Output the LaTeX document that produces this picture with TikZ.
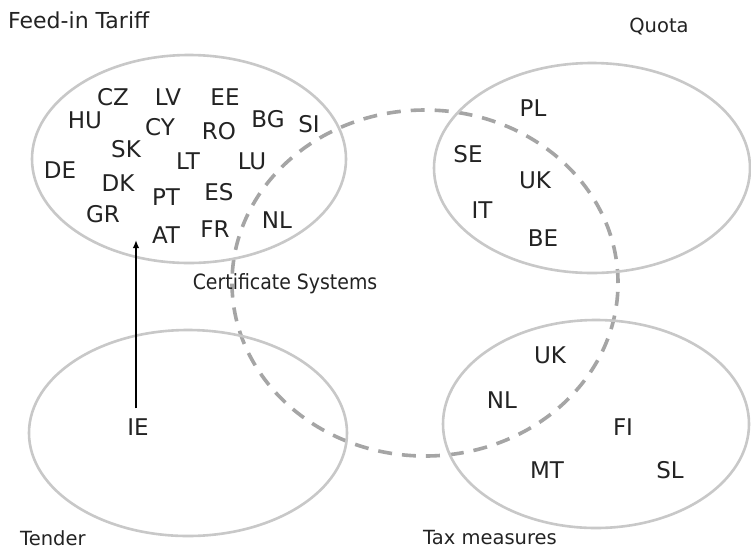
\documentclass[tikz,border=0pt]{standalone}
\usepackage{fontspec}
\setmainfont{DejaVu Sans}
\newfontfamily\narrowfont{DejaVu Sans Condensed}
\usetikzlibrary{shapes.geometric,arrows.meta}
\definecolor{ringgray}{RGB}{200,200,200}
\definecolor{dashgray}{RGB}{165,165,165}
\definecolor{inkgray}{RGB}{35,35,35}
\begin{document}
\begin{tikzpicture}[x=1pt,y=-1pt,
  policy/.style={ellipse,draw=ringgray,line width=2.6pt,inner sep=0pt,outer sep=0pt},
  country/.style={text=inkgray,font=\fontsize{23}{23}\selectfont,inner sep=0pt},
  caption/.style={text=inkgray,font=\fontsize{19.5}{20}\selectfont,inner sep=0pt},
  certring/.style={draw=dashgray,line width=3.6pt,dash pattern=on 14pt off 10pt}]
\useasboundingbox (0,0) rectangle (751,550);
\fill[white] (0,0) rectangle (751,550);

% certificate systems (dashed)
\node[ellipse,certring,minimum width=386pt,minimum height=346pt,inner sep=0pt] (cert) at (425,283) {};

% the four support schemes
\node[policy,minimum width=314pt,minimum height=208pt] (fit) at (189,159) {};
\node[policy,minimum width=316pt,minimum height=210pt] (quota) at (592,168) {};
\node[policy,minimum width=318pt,minimum height=206pt] (tender) at (188,433) {};
\node[policy,minimum width=306pt,minimum height=208pt] (tax) at (596,424) {};

% scheme captions
\node[caption,anchor=west,font=\fontsize{22}{22}\selectfont] (fitlab) at (8,20) {Feed-in Tariff};
\node[caption] (quotalab) at (659,27) {Quota};
\node[caption,font=\narrowfont\fontsize{21}{21}\selectfont] (certlab) at (285,284) {Certificate Systems};
\node[caption,anchor=west] (tenderlab) at (20,538) {Tender};
\node[caption] (taxlab) at (490,538) {Tax measures};

% feed-in tariff countries
\node[country] (cz) at (113,97) {CZ};
\node[country] (lv) at (168,97) {LV};
\node[country] (ee) at (225,97) {EE};
\node[country] (hu) at (85,120) {HU};
\node[country] (cy) at (160,127) {CY};
\node[country] (ro) at (219,131) {RO};
\node[country] (bg) at (268,119) {BG};
\node[country] (si) at (309,124) {SI};
\node[country] (sk) at (126,149) {SK};
\node[country] (lt) at (188,161) {LT};
\node[country] (lu) at (252,161) {LU};
\node[country] (de) at (60,170) {DE};
\node[country] (dk) at (118,183) {DK};
\node[country] (pt) at (166,197) {PT};
\node[country] (es) at (219,192) {ES};
\node[country] (gr) at (103,214) {GR};
\node[country] (nlf) at (277,220) {NL};
\node[country] (at) at (166,235) {AT};
\node[country] (fr) at (215,229) {FR};

% quota countries
\node[country] (pl) at (533,108) {PL};
\node[country] (se) at (468,154) {SE};
\node[country] (ukq) at (535,180) {UK};
\node[country] (it) at (482,210) {IT};
\node[country] (be) at (543,238) {BE};

% tax measure countries
\node[country] (ukt) at (550,355) {UK};
\node[country] (nlt) at (502,400) {NL};
\node[country] (fi) at (623,427) {FI};
\node[country] (mt) at (547,470) {MT};
\node[country] (sl) at (670,470) {SL};

% tender country and its move to feed-in tariff
\node[country] (ie) at (138,427) {IE};
\coordinate (ietip) at (136,240);
\draw[line width=2pt,-{Latex[length=8pt,width=6.5pt]}] (ie.north -| ietip) ++(0,-10) -- (ietip);
\end{tikzpicture}
\end{document}
